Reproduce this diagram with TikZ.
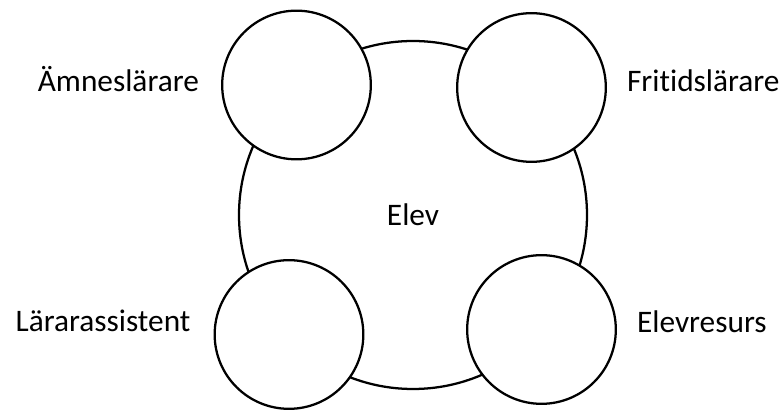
\documentclass[tikz,border=0pt]{standalone}
\usepackage{fontspec}
\setmainfont{Carlito}[Ligatures=NoCommon]
\usetikzlibrary{positioning}

\begin{document}
\begin{tikzpicture}[x=0.75pt, y=0.75pt, line width=1.7pt,
    font=\fontsize{23.5}{28}\selectfont,
    hub/.style={circle, draw, fill=white, minimum size=261pt, inner sep=0pt},
    role/.style={circle, draw, fill=white, minimum size=111.5pt, inner sep=0pt},
    rolename/.style={inner sep=0pt}]
  \useasboundingbox (0,0) rectangle (783,410);
  \node[hub] (elev) at (413,195) {Elev};
  \node[role] (amne) at (296.5,325) {};
  \node[role] (frit) at (531.5,322.5) {};
  \node[role] (assi) at (289,75.5) {};
  \node[role] (resu) at (541.5,80.5) {};
  \node[rolename, left=15.75pt of amne, anchor=base east, yshift=-5.25pt] (amnetext) {Ämneslärare};
  \node[rolename, right=14.25pt of frit, anchor=base west, yshift=-3.15pt] (frittext) {Fritidslärare};
  \node[rolename, left=16.5pt of assi, anchor=base east, yshift=1.9pt] (assitext) {Lärarassistent};
  \node[rolename, right=14.25pt of resu, anchor=base west, yshift=-1.9pt] (resutext) {Elevresurs};
\end{tikzpicture}
\end{document}
